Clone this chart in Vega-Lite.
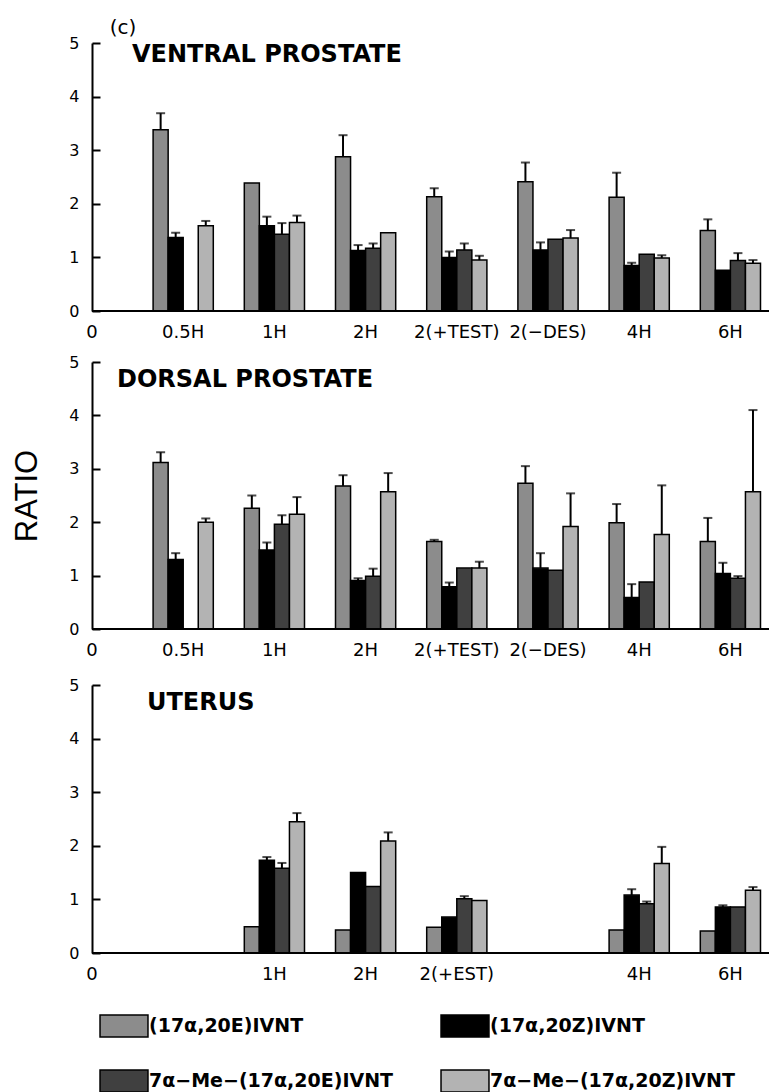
{
  "$schema": "https://vega.github.io/schema/vega-lite/v6.json",
  "background": "white",
  "padding": {"left": 11, "top": 18, "right": 0, "bottom": 0},
  "config": {
    "view": {"stroke": null},
    "axis": {"labelFont": "DejaVu Sans", "labelColor": "black", "domainColor": "black", "tickColor": "black", "titleFont": "Liberation Sans", "titleFontWeight": "normal", "titleColor": "black", "grid": false}
  },
  "data": {"values": [
    {"p": "VP", "t": "0.5H", "s": "(17α,20E)IVNT", "v": 3.38, "hi": 3.69},
    {"p": "VP", "t": "0.5H", "s": "(17α,20Z)IVNT", "v": 1.37, "hi": 1.46},
    {"p": "VP", "t": "0.5H", "s": "7α−Me−(17α,20Z)IVNT", "v": 1.59, "hi": 1.68},
    {"p": "VP", "t": "1H", "s": "(17α,20E)IVNT", "v": 2.39},
    {"p": "VP", "t": "1H", "s": "(17α,20Z)IVNT", "v": 1.59, "hi": 1.76},
    {"p": "VP", "t": "1H", "s": "7α−Me−(17α,20E)IVNT", "v": 1.43, "hi": 1.64},
    {"p": "VP", "t": "1H", "s": "7α−Me−(17α,20Z)IVNT", "v": 1.65, "hi": 1.78},
    {"p": "VP", "t": "2H", "s": "(17α,20E)IVNT", "v": 2.88, "hi": 3.28},
    {"p": "VP", "t": "2H", "s": "(17α,20Z)IVNT", "v": 1.13, "hi": 1.23},
    {"p": "VP", "t": "2H", "s": "7α−Me−(17α,20E)IVNT", "v": 1.17, "hi": 1.26},
    {"p": "VP", "t": "2H", "s": "7α−Me−(17α,20Z)IVNT", "v": 1.46},
    {"p": "VP", "t": "2(+TEST)", "s": "(17α,20E)IVNT", "v": 2.13, "hi": 2.29},
    {"p": "VP", "t": "2(+TEST)", "s": "(17α,20Z)IVNT", "v": 1.0, "hi": 1.11},
    {"p": "VP", "t": "2(+TEST)", "s": "7α−Me−(17α,20E)IVNT", "v": 1.14, "hi": 1.26},
    {"p": "VP", "t": "2(+TEST)", "s": "7α−Me−(17α,20Z)IVNT", "v": 0.95, "hi": 1.03},
    {"p": "VP", "t": "2(−DES)", "s": "(17α,20E)IVNT", "v": 2.41, "hi": 2.77},
    {"p": "VP", "t": "2(−DES)", "s": "(17α,20Z)IVNT", "v": 1.14, "hi": 1.28},
    {"p": "VP", "t": "2(−DES)", "s": "7α−Me−(17α,20E)IVNT", "v": 1.34},
    {"p": "VP", "t": "2(−DES)", "s": "7α−Me−(17α,20Z)IVNT", "v": 1.36, "hi": 1.51},
    {"p": "VP", "t": "4H", "s": "(17α,20E)IVNT", "v": 2.12, "hi": 2.58},
    {"p": "VP", "t": "4H", "s": "(17α,20Z)IVNT", "v": 0.85, "hi": 0.9},
    {"p": "VP", "t": "4H", "s": "7α−Me−(17α,20E)IVNT", "v": 1.06},
    {"p": "VP", "t": "4H", "s": "7α−Me−(17α,20Z)IVNT", "v": 0.99, "hi": 1.04},
    {"p": "VP", "t": "6H", "s": "(17α,20E)IVNT", "v": 1.5, "hi": 1.71},
    {"p": "VP", "t": "6H", "s": "(17α,20Z)IVNT", "v": 0.76},
    {"p": "VP", "t": "6H", "s": "7α−Me−(17α,20E)IVNT", "v": 0.94, "hi": 1.08},
    {"p": "VP", "t": "6H", "s": "7α−Me−(17α,20Z)IVNT", "v": 0.89, "hi": 0.95},
    {"p": "DP", "t": "0.5H", "s": "(17α,20E)IVNT", "v": 3.12, "hi": 3.31},
    {"p": "DP", "t": "0.5H", "s": "(17α,20Z)IVNT", "v": 1.3, "hi": 1.42},
    {"p": "DP", "t": "0.5H", "s": "7α−Me−(17α,20Z)IVNT", "v": 2.0, "hi": 2.07},
    {"p": "DP", "t": "1H", "s": "(17α,20E)IVNT", "v": 2.26, "hi": 2.5},
    {"p": "DP", "t": "1H", "s": "(17α,20Z)IVNT", "v": 1.48, "hi": 1.62},
    {"p": "DP", "t": "1H", "s": "7α−Me−(17α,20E)IVNT", "v": 1.96, "hi": 2.13},
    {"p": "DP", "t": "1H", "s": "7α−Me−(17α,20Z)IVNT", "v": 2.15, "hi": 2.47},
    {"p": "DP", "t": "2H", "s": "(17α,20E)IVNT", "v": 2.68, "hi": 2.88},
    {"p": "DP", "t": "2H", "s": "(17α,20Z)IVNT", "v": 0.91, "hi": 0.95},
    {"p": "DP", "t": "2H", "s": "7α−Me−(17α,20E)IVNT", "v": 0.99, "hi": 1.13},
    {"p": "DP", "t": "2H", "s": "7α−Me−(17α,20Z)IVNT", "v": 2.57, "hi": 2.92},
    {"p": "DP", "t": "2(+TEST)", "s": "(17α,20E)IVNT", "v": 1.64, "hi": 1.67},
    {"p": "DP", "t": "2(+TEST)", "s": "(17α,20Z)IVNT", "v": 0.79, "hi": 0.87},
    {"p": "DP", "t": "2(+TEST)", "s": "7α−Me−(17α,20E)IVNT", "v": 1.14},
    {"p": "DP", "t": "2(+TEST)", "s": "7α−Me−(17α,20Z)IVNT", "v": 1.14, "hi": 1.26},
    {"p": "DP", "t": "2(−DES)", "s": "(17α,20E)IVNT", "v": 2.73, "hi": 3.05},
    {"p": "DP", "t": "2(−DES)", "s": "(17α,20Z)IVNT", "v": 1.14, "hi": 1.42},
    {"p": "DP", "t": "2(−DES)", "s": "7α−Me−(17α,20E)IVNT", "v": 1.1},
    {"p": "DP", "t": "2(−DES)", "s": "7α−Me−(17α,20Z)IVNT", "v": 1.92, "hi": 2.54},
    {"p": "DP", "t": "4H", "s": "(17α,20E)IVNT", "v": 1.99, "hi": 2.34},
    {"p": "DP", "t": "4H", "s": "(17α,20Z)IVNT", "v": 0.59, "hi": 0.84},
    {"p": "DP", "t": "4H", "s": "7α−Me−(17α,20E)IVNT", "v": 0.88},
    {"p": "DP", "t": "4H", "s": "7α−Me−(17α,20Z)IVNT", "v": 1.77, "hi": 2.69},
    {"p": "DP", "t": "6H", "s": "(17α,20E)IVNT", "v": 1.64, "hi": 2.08},
    {"p": "DP", "t": "6H", "s": "(17α,20Z)IVNT", "v": 1.04, "hi": 1.24},
    {"p": "DP", "t": "6H", "s": "7α−Me−(17α,20E)IVNT", "v": 0.95, "hi": 0.99},
    {"p": "DP", "t": "6H", "s": "7α−Me−(17α,20Z)IVNT", "v": 2.57, "hi": 4.1},
    {"p": "UT", "t": "1H", "s": "(17α,20E)IVNT", "v": 0.49},
    {"p": "UT", "t": "1H", "s": "(17α,20Z)IVNT", "v": 1.73, "hi": 1.79},
    {"p": "UT", "t": "1H", "s": "7α−Me−(17α,20E)IVNT", "v": 1.58, "hi": 1.68},
    {"p": "UT", "t": "1H", "s": "7α−Me−(17α,20Z)IVNT", "v": 2.45, "hi": 2.61},
    {"p": "UT", "t": "2H", "s": "(17α,20E)IVNT", "v": 0.43},
    {"p": "UT", "t": "2H", "s": "(17α,20Z)IVNT", "v": 1.5},
    {"p": "UT", "t": "2H", "s": "7α−Me−(17α,20E)IVNT", "v": 1.24},
    {"p": "UT", "t": "2H", "s": "7α−Me−(17α,20Z)IVNT", "v": 2.09, "hi": 2.25},
    {"p": "UT", "t": "2(+EST)", "s": "(17α,20E)IVNT", "v": 0.48},
    {"p": "UT", "t": "2(+EST)", "s": "(17α,20Z)IVNT", "v": 0.67},
    {"p": "UT", "t": "2(+EST)", "s": "7α−Me−(17α,20E)IVNT", "v": 1.01, "hi": 1.06},
    {"p": "UT", "t": "2(+EST)", "s": "7α−Me−(17α,20Z)IVNT", "v": 0.98},
    {"p": "UT", "t": "4H", "s": "(17α,20E)IVNT", "v": 0.43},
    {"p": "UT", "t": "4H", "s": "(17α,20Z)IVNT", "v": 1.08, "hi": 1.19},
    {"p": "UT", "t": "4H", "s": "7α−Me−(17α,20E)IVNT", "v": 0.92, "hi": 0.96},
    {"p": "UT", "t": "4H", "s": "7α−Me−(17α,20Z)IVNT", "v": 1.67, "hi": 1.98},
    {"p": "UT", "t": "6H", "s": "(17α,20E)IVNT", "v": 0.41},
    {"p": "UT", "t": "6H", "s": "(17α,20Z)IVNT", "v": 0.86, "hi": 0.89},
    {"p": "UT", "t": "6H", "s": "7α−Me−(17α,20E)IVNT", "v": 0.86},
    {"p": "UT", "t": "6H", "s": "7α−Me−(17α,20Z)IVNT", "v": 1.17, "hi": 1.23}
  ]},
  "resolve": {"scale": {"xOffset": "independent", "x": "independent", "y": "independent"}},
  "spacing": 18,
  "vconcat": [
    {
      "spacing": 13,
      "resolve": {"scale": {"xOffset": "independent", "x": "independent", "y": "independent"}},
      "vconcat": [
        {
          "width": 677, "height": 268,
          "layer": [
            {
              "transform": [{"filter": "datum.p == 'VP'"}],
              "mark": {"type": "bar", "stroke": "black", "strokeWidth": 1.5},
              "encoding": {
                "x": {"field": "t", "type": "nominal", "scale": {"domain": ["0", "0.5H", "1H", "2H", "2(+TEST)", "2(−DES)", "4H", "6H"], "range": [-45.6, 684], "paddingInner": 0.34, "paddingOuter": 0.17}, "axis": {"title": null, "ticks": false, "domain": false, "labelAngle": 0, "labelPadding": 12, "labelFontSize": 18}},
                "xOffset": {"field": "s", "type": "nominal", "scale": {"domain": ["(17α,20E)IVNT", "(17α,20Z)IVNT", "7α−Me−(17α,20E)IVNT", "7α−Me−(17α,20Z)IVNT"], "paddingInner": 0, "paddingOuter": 0}},
                "y": {"field": "v", "type": "quantitative", "scale": {"domain": [0, 5], "nice": false}, "axis": {"values": [0, 1, 2, 3, 4, 5], "tickSize": -8, "tickWidth": 2, "domainWidth": 2, "labelPadding": 21, "labelFontSize": 16, "title": "RATIO", "titleOpacity": 0, "titleFontSize": 31, "titlePadding": 25}},
                "color": {"field": "s", "type": "nominal", "scale": {"domain": ["(17α,20E)IVNT", "7α−Me−(17α,20E)IVNT", "(17α,20Z)IVNT", "7α−Me−(17α,20Z)IVNT"], "range": ["#8c8c8c", "#404040", "#000000", "#b3b3b3"]},
                  "legend": {"title": null, "orient": "none", "legendX": 20, "legendY": 971, "columns": 2, "symbolType": "M-2.18,-1H2.18V1H-2.18Z", "symbolSize": 484, "symbolStrokeColor": "black", "symbolStrokeWidth": 1.5, "labelFont": "DejaVu Sans", "labelFontWeight": "bold", "labelFontSize": 19, "labelColor": "black", "labelOffset": 13, "columnPadding": 44, "rowPadding": 27, "labelLimit": 500, "padding": 0}}
              }
            },
            {
              "transform": [{"filter": "datum.p == 'VP' && isValid(datum.hi)"}],
              "mark": {"type": "rule", "color": "black", "strokeWidth": 2},
              "encoding": {
                "x": {"field": "t", "type": "nominal"},
                "xOffset": {"field": "s", "type": "nominal"},
                "y": {"field": "v", "type": "quantitative"},
                "y2": {"field": "hi"}
              }
            },
            {
              "transform": [{"filter": "datum.p == 'VP' && isValid(datum.hi)"}],
              "mark": {"type": "tick", "color": "black", "thickness": 2, "size": 9},
              "encoding": {
                "x": {"field": "t", "type": "nominal"},
                "xOffset": {"field": "s", "type": "nominal"},
                "y": {"field": "hi", "type": "quantitative"}
              }
            },
            {
              "data": {"values": [{}]},
              "mark": {"type": "rule", "color": "black", "strokeWidth": 2},
              "encoding": {"y": {"datum": 0}}
            },
            {
              "data": {"values": [{"label": "VENTRAL PROSTATE"}]},
              "mark": {"type": "text", "align": "left", "baseline": "middle", "dx": 40, "font": "DejaVu Sans", "fontWeight": "bold", "fontSize": 24, "color": "black"},
              "encoding": {"x": {"datum": "0"}, "y": {"datum": 4.78}, "text": {"field": "label"}}
            },
            {
              "data": {"values": [{"label": "(c)"}]},
              "mark": {"type": "text", "align": "center", "baseline": "bottom", "dx": 31, "dy": -5, "font": "DejaVu Sans", "fontSize": 20, "color": "black"},
              "encoding": {"x": {"datum": "0"}, "y": {"datum": 5}, "text": {"field": "label"}}
            }
          ]
        },
        {
          "width": 677, "height": 267,
          "layer": [
            {
              "transform": [{"filter": "datum.p == 'DP'"}],
              "mark": {"type": "bar", "stroke": "black", "strokeWidth": 1.5},
              "encoding": {
                "x": {"field": "t", "type": "nominal", "scale": {"domain": ["0", "0.5H", "1H", "2H", "2(+TEST)", "2(−DES)", "4H", "6H"], "range": [-45.6, 684], "paddingInner": 0.34, "paddingOuter": 0.17}, "axis": {"title": null, "ticks": false, "domain": false, "labelAngle": 0, "labelPadding": 12, "labelFontSize": 18}},
                "xOffset": {"field": "s", "type": "nominal", "scale": {"domain": ["(17α,20E)IVNT", "(17α,20Z)IVNT", "7α−Me−(17α,20E)IVNT", "7α−Me−(17α,20Z)IVNT"], "paddingInner": 0, "paddingOuter": 0}},
                "y": {"field": "v", "type": "quantitative", "scale": {"domain": [0, 5], "nice": false}, "axis": {"values": [0, 1, 2, 3, 4, 5], "tickSize": -8, "tickWidth": 2, "domainWidth": 2, "labelPadding": 21, "labelFontSize": 16, "title": "RATIO", "titleFontSize": 31, "titlePadding": 25}},
                "color": {"field": "s", "type": "nominal"}
              }
            },
            {
              "transform": [{"filter": "datum.p == 'DP' && isValid(datum.hi)"}],
              "mark": {"type": "rule", "color": "black", "strokeWidth": 2},
              "encoding": {
                "x": {"field": "t", "type": "nominal"},
                "xOffset": {"field": "s", "type": "nominal"},
                "y": {"field": "v", "type": "quantitative"},
                "y2": {"field": "hi"}
              }
            },
            {
              "transform": [{"filter": "datum.p == 'DP' && isValid(datum.hi)"}],
              "mark": {"type": "tick", "color": "black", "thickness": 2, "size": 9},
              "encoding": {
                "x": {"field": "t", "type": "nominal"},
                "xOffset": {"field": "s", "type": "nominal"},
                "y": {"field": "hi", "type": "quantitative"}
              }
            },
            {
              "data": {"values": [{}]},
              "mark": {"type": "rule", "color": "black", "strokeWidth": 2},
              "encoding": {"y": {"datum": 0}}
            },
            {
              "data": {"values": [{"label": "DORSAL PROSTATE"}]},
              "mark": {"type": "text", "align": "left", "baseline": "middle", "dx": 25, "font": "DejaVu Sans", "fontWeight": "bold", "fontSize": 24, "color": "black"},
              "encoding": {"x": {"datum": "0"}, "y": {"datum": 4.67}, "text": {"field": "label"}}
            }
          ]
        }
      ]
    },
    {
      "width": 677, "height": 268,
      "layer": [
        {
          "transform": [{"filter": "datum.p == 'UT'"}],
          "mark": {"type": "bar", "stroke": "black", "strokeWidth": 1.5},
          "encoding": {
            "x": {"field": "t", "type": "nominal", "scale": {"domain": ["0", "u1", "1H", "2H", "2(+EST)", "u2", "4H", "6H"], "range": [-45.6, 684], "paddingInner": 0.34, "paddingOuter": 0.17}, "axis": {"title": null, "ticks": false, "domain": false, "labelAngle": 0, "labelPadding": 12, "labelFontSize": 18, "labelExpr": "datum.value == 'u1' || datum.value == 'u2' ? '' : datum.value"}},
            "xOffset": {"field": "s", "type": "nominal", "scale": {"domain": ["(17α,20E)IVNT", "(17α,20Z)IVNT", "7α−Me−(17α,20E)IVNT", "7α−Me−(17α,20Z)IVNT"], "paddingInner": 0, "paddingOuter": 0}},
            "y": {"field": "v", "type": "quantitative", "scale": {"domain": [0, 5], "nice": false}, "axis": {"values": [0, 1, 2, 3, 4, 5], "tickSize": -8, "tickWidth": 2, "domainWidth": 2, "labelPadding": 21, "labelFontSize": 16, "title": "RATIO", "titleOpacity": 0, "titleFontSize": 31, "titlePadding": 25}},
            "color": {"field": "s", "type": "nominal"}
          }
        },
        {
          "transform": [{"filter": "datum.p == 'UT' && isValid(datum.hi)"}],
          "mark": {"type": "rule", "color": "black", "strokeWidth": 2},
          "encoding": {
            "x": {"field": "t", "type": "nominal"},
            "xOffset": {"field": "s", "type": "nominal"},
            "y": {"field": "v", "type": "quantitative"},
            "y2": {"field": "hi"}
          }
        },
        {
          "transform": [{"filter": "datum.p == 'UT' && isValid(datum.hi)"}],
          "mark": {"type": "tick", "color": "black", "thickness": 2, "size": 9},
          "encoding": {
            "x": {"field": "t", "type": "nominal"},
            "xOffset": {"field": "s", "type": "nominal"},
            "y": {"field": "hi", "type": "quantitative"}
          }
        },
        {
          "data": {"values": [{}]},
          "mark": {"type": "rule", "color": "black", "strokeWidth": 2},
          "encoding": {"y": {"datum": 0}}
        },
        {
          "data": {"values": [{"label": "UTERUS"}]},
          "mark": {"type": "text", "align": "left", "baseline": "middle", "dx": 55, "font": "DejaVu Sans", "fontWeight": "bold", "fontSize": 24, "color": "black"},
          "encoding": {"x": {"datum": "0"}, "y": {"datum": 4.66}, "text": {"field": "label"}}
        }
      ]
    }
  ]
}
